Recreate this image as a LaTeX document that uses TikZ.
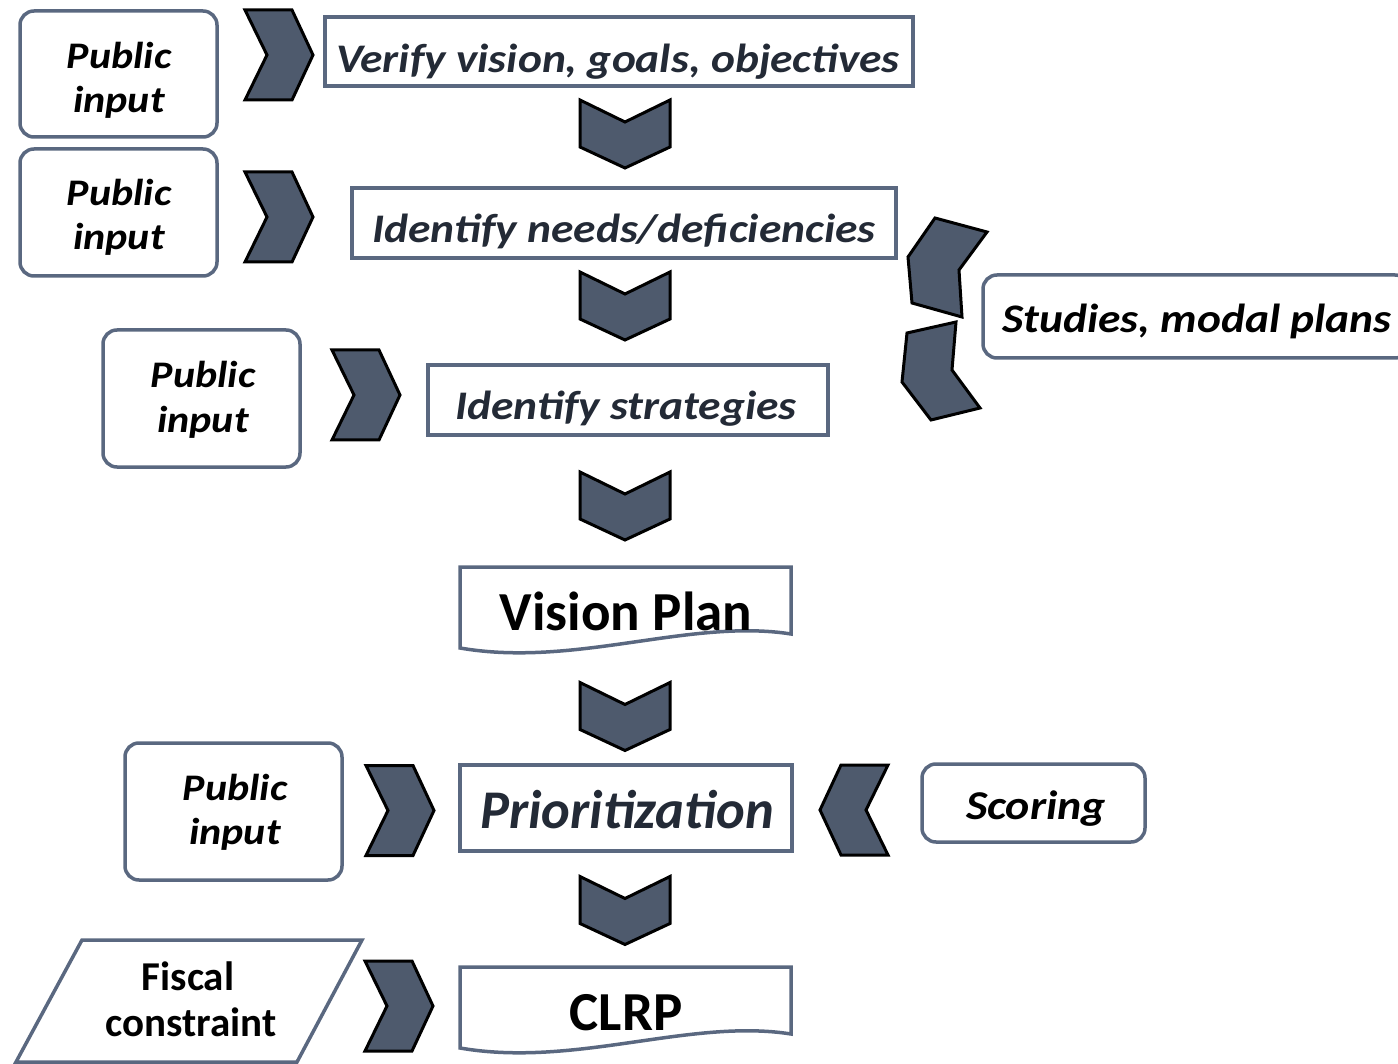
\documentclass[tikz,border=0pt]{standalone}
\usepackage{fontspec}
\setmainfont{Carlito}
\newfontfamily\wideit[FakeStretch=1.12]{Carlito}
\definecolor{slate}{HTML}{4E5A6D}
\definecolor{bord}{HTML}{5A6880}
\definecolor{txt}{HTML}{232A36}
\begin{document}
\begin{tikzpicture}[x=1pt,y=-1pt,
  box/.style={draw=bord, line width=3.5pt, fill=white, inner sep=0pt},
  pub/.style={draw=bord, line width=3.5pt, rounded corners=14pt, inner sep=0pt},
  proctext/.style={inner sep=0pt, anchor=base, text=txt, font=\wideit\bfseries\itshape\fontsize{40.6}{46}\selectfont},
  pubtext/.style={inner sep=0pt, anchor=base, font=\wideit\bfseries\itshape\fontsize{37.5}{45}\selectfont},
  sidetext/.style={inner sep=0pt, anchor=base, font=\wideit\bfseries\itshape\fontsize{41}{46}\selectfont},
  doctext/.style={inner sep=0pt, anchor=base, font=\bfseries\fontsize{55}{60}\selectfont},
  fistext/.style={inner sep=0pt, anchor=base, font=\bfseries\fontsize{41}{45}\selectfont},
  docshape/.style={draw=bord, line width=3.5pt, fill=white},
  chevfill/.style={fill=slate, draw=black, line width=3pt, line join=miter},
  chevron/.pic={\path[chevfill] (-34,45) -- (13,45) -- (34,0) -- (13,-45) -- (-34,-45) -- (-12,0) -- cycle;}
]
\useasboundingbox (0,0) rectangle (1398,1064);

% public input boxes
\node[pub, minimum width=197pt, minimum height=126pt] (p1) at (118.5,74) {};
\node[pubtext] (p1a) at (119,69) {Public};
\node[pubtext] (p1b) at (119,113) {input};
\node[pub, minimum width=197pt, minimum height=127pt] (p2) at (118.5,212.5) {};
\node[pubtext] (p2a) at (119,206) {Public};
\node[pubtext] (p2b) at (119,250) {input};
\node[pub, minimum width=197pt, minimum height=137pt] (p3) at (201.5,398.5) {};
\node[pubtext] (p3a) at (203,388) {Public};
\node[pubtext] (p3b) at (203,432) {input};
\node[pub, minimum width=217pt, minimum height=137pt] (p4) at (233.5,811.5) {};
\node[pubtext] (p4a) at (235,800) {Public};
\node[pubtext] (p4b) at (235,844) {input};

% process boxes
\node[box, minimum width=588pt, minimum height=69pt] (verify) at (619,51.5) {};
\node[proctext] (verifyt) at (618,73) {Verify vision, goals, objectives};
\node[box, minimum width=544pt, minimum height=70pt] (needs) at (624,223) {};
\node[proctext] (needst) at (624,243) {Identify needs/deficiencies};
\node[box, minimum width=400pt, minimum height=70pt] (strat) at (628,400) {};
\node[proctext] (stratt) at (626,420) {Identify strategies};
\node[box, minimum width=332pt, minimum height=86pt] (prio) at (626,808) {};
\node[proctext, font=\bfseries\itshape\fontsize{54.5}{60}\selectfont] (priot) at (627,828) {Prioritization};

% side inputs
\node[pub, minimum width=223pt, minimum height=78pt] (score) at (1033.5,803) {};
\node[sidetext] (scoret) at (1036,819) {Scoring};
\node[pub, minimum width=426pt, minimum height=83pt] (studies) at (1196,316.5) {};
\node[sidetext, font=\wideit\bfseries\itshape\fontsize{40.6}{46}\selectfont] (studiest) at (1197,333) {Studies, modal plans};

% documents
\path[docshape] (460,567) -- (791,567) -- (791,634) .. controls (690,618) and (575,668) .. (460,648) -- cycle;
\node[doctext] (vp) at (626,630) {Vision Plan};
\path[docshape] (460,967) -- (791,967) -- (791,1034) .. controls (690,1018) and (575,1068) .. (460,1048) -- cycle;
\node[doctext] (clrp) at (626,1030) {CLRP};

% fiscal constraint
\path[draw=bord, line width=3.5pt, fill=white] (82,940) -- (362,940) -- (297,1062) -- (16,1062) -- cycle;
\node[fistext] (fisa) at (188,990) {Fiscal};
\node[fistext] (fisb) at (191,1036) {constraint};

% right chevrons
\pic at (279,55) {chevron};
\pic at (279,217) {chevron};
\pic at (366,395) {chevron};
\pic at (400,810.5) {chevron};
\pic at (399,1006) {chevron};
% left chevron
\pic[rotate=180] at (854,810) {chevron};
% down chevrons
\pic[rotate=-90] at (625,134) {chevron};
\pic[rotate=-90] at (625,306) {chevron};
\pic[rotate=-90] at (625,506) {chevron};
\pic[rotate=-90] at (625,716.5) {chevron};
\pic[rotate=-90] at (625,910.5) {chevron};

% tilted chevrons from studies
\path[chevfill] (935,218) -- (987,232) -- (959,270) -- (962,317) -- (912,303) -- (908,257) -- cycle;
\path[chevfill] (956,322) -- (952,370) -- (980,408) -- (931,420) -- (902,382) -- (907,333) -- cycle;
\end{tikzpicture}
\end{document}
